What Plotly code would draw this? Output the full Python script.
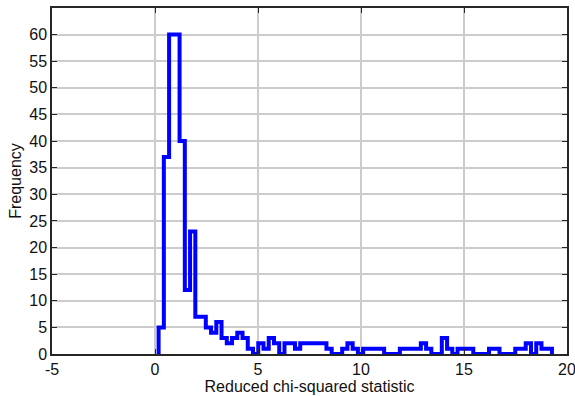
import numpy as np
import plotly.graph_objects as go

# Histogram binning
BIN_START = 0.175
BIN_WIDTH = 0.2546

# Frequency per bin
counts = [5, 37, 60, 60, 40, 12, 23, 7, 7, 5,
          4, 6, 3, 2, 3, 4, 3, 1, 0, 2,
          1, 3, 2, 0, 2, 2, 1, 2, 2, 2,
          2, 2, 1, 0, 0, 1, 2, 1, 0, 1,
          1, 1, 1, 0, 0, 0, 1, 1, 1, 1,
          2, 1, 0, 0, 3, 1, 0, 1, 1, 1,
          0, 0, 0, 1, 1, 0, 0, 0, 1, 1,
          2, 0, 2, 1, 1]

x_ticks = [-5, 0, 5, 10, 15, 20]
x_tick_labels = ["-5", "0", "5", "10", "15", "20"]
y_ticks = [0, 5, 10, 15, 20, 25, 30, 35, 40, 45, 50, 55, 60]
y_tick_labels = [str(v) for v in y_ticks]

x_title = "Reduced chi-squared statistic"
y_title = "Frequency"

edges = BIN_START + BIN_WIDTH * np.arange(len(counts) + 1)
xs = [edges[0]] + list(edges)
ys = [0] + list(counts) + [0]

fig = go.Figure(
    go.Scatter(
        x=xs, y=ys, mode="lines",
        line=dict(color="#0000ff", width=4, shape="hv"),
        hoverinfo="skip", showlegend=False,
    )
)

FONT = "Helvetica, Arial, 'Liberation Sans', sans-serif"
axis_common = dict(
    showgrid=True, gridcolor="#cccccc", gridwidth=1.5,
    showline=True, linecolor="#262626", linewidth=1.5, mirror="ticks",
    ticks="inside", ticklen=5, tickcolor="#262626", tickwidth=1,
    zeroline=False, layer="above traces", automargin=False,
    ticklabeloverflow="allow",
    tickfont=dict(family=FONT, size=16, color="#111111"),
)

fig.update_layout(
    template="none",
    width=575, height=396,
    margin=dict(l=52, r=8, t=8, b=42),
    paper_bgcolor="white", plot_bgcolor="white",
    font=dict(family=FONT, size=16, color="#111111"),
    xaxis=dict(range=[-5, 20], tickvals=x_ticks, ticktext=x_tick_labels,
               title=dict(text=x_title, font=dict(family=FONT, size=16), standoff=4),
               **axis_common),
    yaxis=dict(range=[0, 65], tickvals=y_ticks, ticktext=y_tick_labels,
               title=dict(text=y_title, font=dict(family=FONT, size=16), standoff=4),
               **axis_common),
)

fig.write_html("out.html")
